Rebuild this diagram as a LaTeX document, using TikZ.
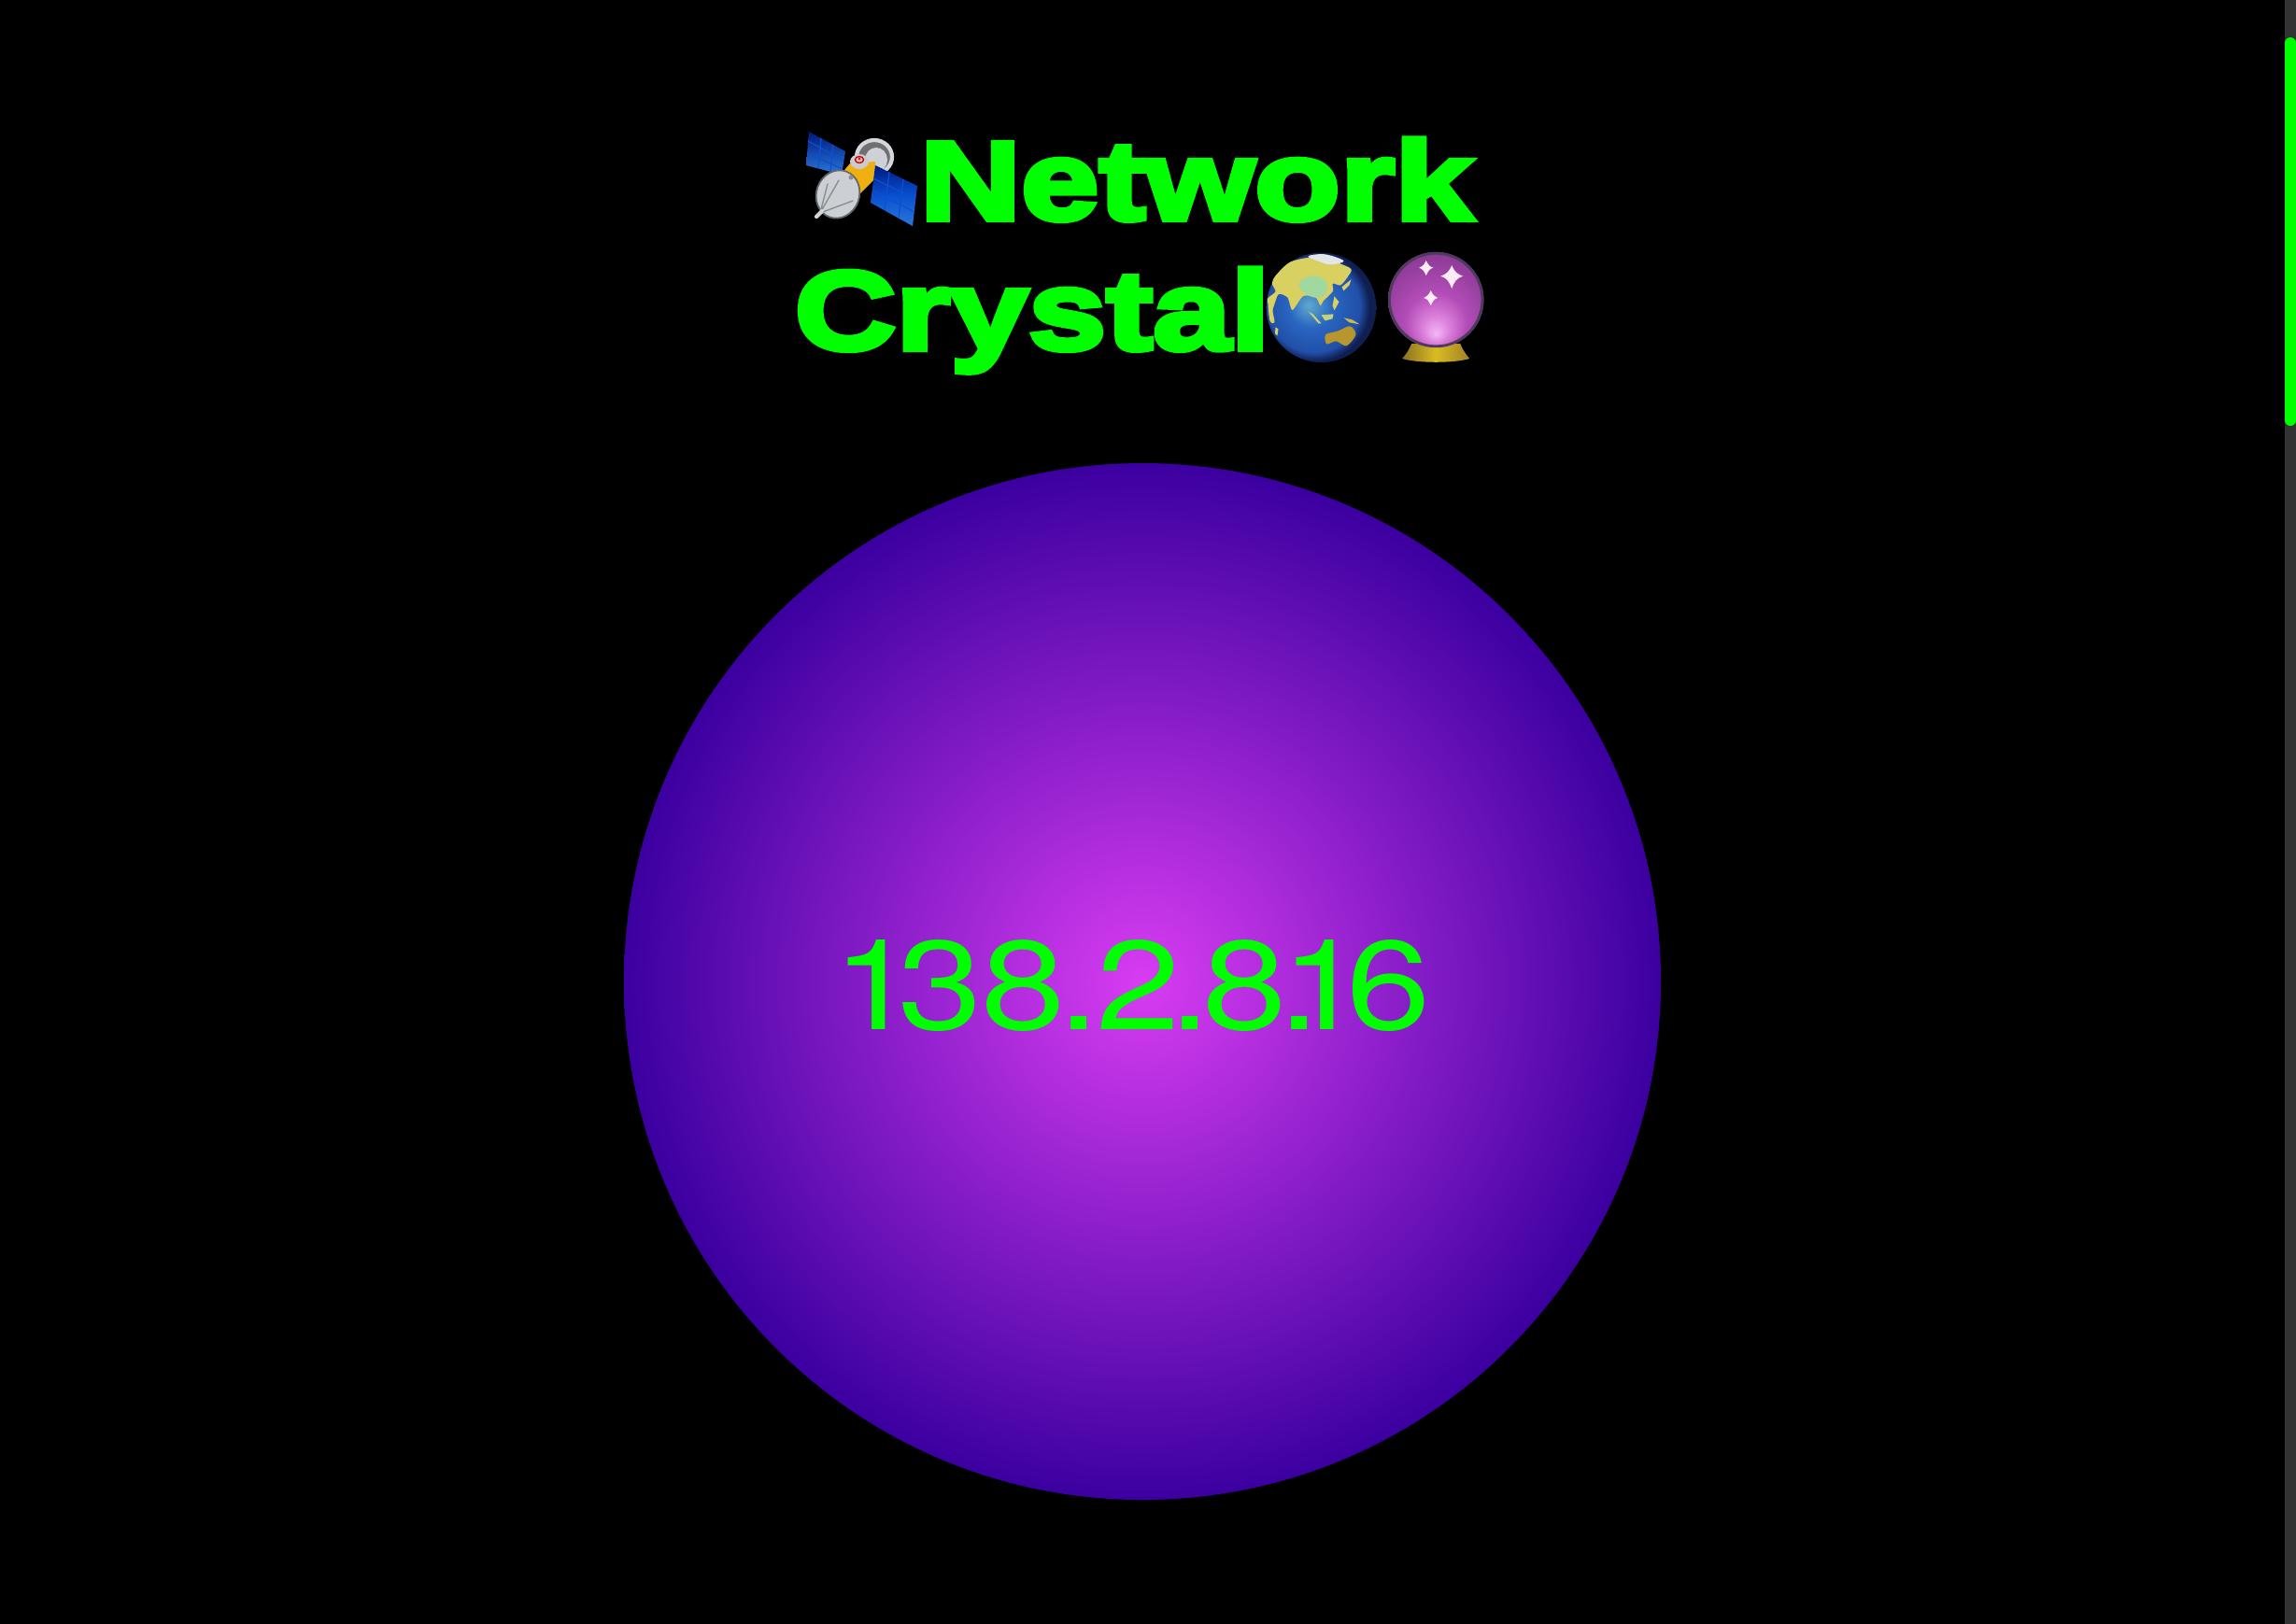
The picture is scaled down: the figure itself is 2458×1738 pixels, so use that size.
\documentclass[tikz,border=0pt]{standalone}
\usepackage{fontspec}
\setmainfont{TeX Gyre Heros}
\newfontfamily\headfont[FakeBold=5,FakeStretch=1.255]{Liberation Sans Bold}
\newfontfamily\addrfont[FakeStretch=1.2]{TeX Gyre Heros}
\definecolor{paper}{HTML}{000000}
\definecolor{neon}{HTML}{00FF00}
\definecolor{track}{HTML}{333333}
\definecolor{orbin}{HTML}{D83CF2}
\definecolor{orbout}{HTML}{3C00A0}
\definecolor{panel}{HTML}{001A80}
\definecolor{panelhi}{HTML}{2A78D8}
\definecolor{cell}{HTML}{0A50D0}
\definecolor{dish}{HTML}{C8CCD0}
\definecolor{bus}{HTML}{F0B010}
\definecolor{land}{HTML}{D8D060}
\definecolor{mint}{HTML}{A0D8A0}
\definecolor{oz}{HTML}{B8962E}
\definecolor{brass}{HTML}{C8A030}
\definecolor{rim}{HTML}{4D3A5C}
\pgfdeclareradialshading{orbshade}{\pgfpoint{0bp}{0bp}}{color(0bp)=(orbin); color(25bp)=(orbout); color(50bp)=(orbout)}
\pgfdeclareradialshading{globeshade}{\pgfpoint{-6bp}{1bp}}{rgb(0bp)=(0.38,0.66,0.80); rgb(10bp)=(0.16,0.40,0.76); rgb(21bp)=(0.13,0.31,0.66); rgb(25bp)=(0.06,0.12,0.32); rgb(50bp)=(0.06,0.12,0.32)}
\pgfdeclareradialshading{lensshade}{\pgfpoint{0bp}{-18bp}}{rgb(0bp)=(0.96,0.72,0.96); rgb(7bp)=(0.86,0.50,0.86); rgb(16bp)=(0.70,0.30,0.72); rgb(32bp)=(0.54,0.22,0.58); rgb(50bp)=(0.54,0.22,0.58)}
\newcommand{\ks}[1]{\kern#1\dimexpr 0.01cm\relax}

\begin{document}
\begin{tikzpicture}[
    x=0.01cm, y=-0.01cm,
    headline/.style={anchor=base west, inner sep=0pt, text=neon, font=\headfont\fontsize{34}{34}\selectfont},
    address/.style={anchor=base west, inner sep=0pt, text=neon, font=\addrfont\fontsize{38.5}{38.5}\selectfont},
    panelbox/.style={top color=panel, bottom color=panelhi},
    gridline/.style={cell, line width=0.35pt},
    glint/.style={white!92!magenta},
  ]
\useasboundingbox (0,0) rectangle (2458,1738);
\fill[paper] (-5,-5) rectangle (2463,1745);

% --- Scrollbar on the right edge ----------------------------------------------
\fill[track] (2446,-5) rectangle (2463,1745);
\fill[neon, rounded corners=0.06cm] (2446,40) rectangle (2458,456);

% --- Title, two lines --------------------------------------------------------
\node[headline] (network) at (984,235) {Network};
\node[headline] (crystal) at (850,374) {Crystal};

% --- Satellite ---------------------------------------------------------------
\begin{scope}[shift={(922,191)}]
  \draw[dish!80!white, line width=1.2pt, fill=dish!55!black] (14,-23) ellipse (19 and 18);
  \fill[dish!90!white] (16,-20) ellipse (12 and 13);
  \shade[panelbox] (-56,-50) -- (-17,-29) -- (-21,-4) -- (-59,-14) -- cycle;
  \draw[gridline] (-43,-43) -- (-46,-11) (-30,-36) -- (-33,-7) (-57,-40) -- (-19,-19) (-58,-27) -- (-20,-10);
  \fill[bus] (-22,-4) -- (-12,-16) -- (15,-18) -- (14,1) -- (-4,19) -- (-19,1) -- cycle;
  \fill[dish] (-2,-18) ellipse (10 and 8);
  \draw[red!85!black, line width=0.4pt] (-2,-20) ellipse (4.5 and 3.5);
  \fill[red] (-2,-21) circle (1.5);
  \shade[top color=panel, bottom color=panelhi, middle color=cell] (15,-14) -- (60,8) -- (55,51) -- (10,26) -- cycle;
  \draw[gridline] (30,-7) -- (25,34) (45,1) -- (40,43) (13,0) -- (58,22) (12,13) -- (57,36);
  \draw[dish!50!black, line width=0.5pt, fill=dish!92!white, rotate around={-20:(-25,17)}] (-25,17) ellipse (23 and 26);
  \draw[dish!70!black, line width=0.4pt, line cap=round] (-44,37) -- (-24,2) (-44,37) -- (-9,24) (-44,37) -- (-36,6);
  \fill[dish!70!black] (-11,-1) circle (2.5);
  \draw[dish!85!white, line width=1.2pt, line cap=round] (-48,41) -- (-42,35);
\end{scope}

% --- Globe -------------------------------------------------------------------
\begin{scope}[shift={(1414.5,329.3)}]
  \shade[shading=globeshade] (0,0) circle (58.8);
  \fill[land] plot[smooth cycle, tension=0.45] coordinates {(-57.7,-9) (-49,-17) (-52.7,-25.7) (-49,-34) (-32.7,-49) (-2.7,-54) (30.7,-42.3) (29,-34) (20.7,-24) (12.3,-25.7) (12.3,-17.3) (2.3,-7.3) (-1,-2.3) (-6,-10.7) (-19.3,-12.3) (-31,2.7) (-36,-10.7) (-46,-14) (-52.7,2.7)};
  \fill[land] plot[smooth cycle, tension=0.5] coordinates {(-57,-8) (-52,-8) (-52,4) (-50,16) (-55,14)};
  \fill[mint] plot[smooth cycle, tension=0.7] coordinates {(-24,-26) (-8,-34) (6,-26) (2,-12) (-14,-13)};
  \fill[dish!50!white] plot[smooth cycle, tension=0.6] coordinates {(-14,-55) (4,-57) (24,-50) (10,-46) (-4,-50)};
  \fill[oz] plot[smooth cycle, tension=0.5] coordinates {(4.7,29) (18,25) (30.7,20) (37,29) (27,41) (16,36) (5.7,39)};
  \fill[land] (-49,21) -- (-46,23) -- (-47,30) -- (-49.5,28) -- cycle;
  \fill[land!80!mint] (-14,4) -- (-9,7) -- (0,17) -- (-3,17) -- cycle;
  \fill[land!60!mint] (0,8) -- (13,7) -- (12,12) -- (4,14) -- cycle;
  \fill[land!60!oz] (24,11) -- (33,13) -- (41,18) -- (30,16) -- cycle;
  \fill[land] (14,-12) -- (19,-6) -- (14,3) -- (12,-2) -- cycle;
  \fill[land] (22,-22) -- (32,-30) -- (30,-24) -- (24,-18) -- cycle;
\end{scope}

% --- Crystal ball ------------------------------------------------------------
\begin{scope}[shift={(1537.2,321)}]
  \shade[left color=brass!70!black, right color=brass!80!black, middle color=brass!70!yellow] (-26,47) -- (26,47) .. controls (30,56) and (32,58) .. (36,63) .. controls (20,68) and (-20,68) .. (-36,63) .. controls (-32,58) and (-30,56) .. (-26,47) -- cycle;
  \shade[shading=lensshade] (0,0) circle (51.2);
  \draw[rim, line width=0.8pt] (0,0) circle (49.8);
  \fill[glint] (-10.5,-42) .. controls (-8,-37) and (-7,-36) .. (-3,-34.3) .. controls (-7,-33) and (-8,-31) .. (-10.5,-26) .. controls (-13,-31) and (-14,-33) .. (-18,-34.3) .. controls (-14,-36) and (-13,-37) .. (-10.5,-42) -- cycle;
  \fill[glint] (17,-37) .. controls (20,-30) and (22,-28) .. (29,-25.3) .. controls (22,-23) and (20,-20) .. (17,-12) .. controls (14,-20) and (12,-23) .. (5,-25.3) .. controls (12,-28) and (14,-30) .. (17,-37) -- cycle;
  \fill[glint] (-5.5,-10) .. controls (-3,-5) and (-2,-4) .. (2,-2) .. controls (-2,-1) and (-3,1) .. (-5.5,6) .. controls (-8,1) and (-9,-1) .. (-13,-2) .. controls (-9,-4) and (-8,-5) .. (-5.5,-10) -- cycle;
\end{scope}

% --- Orb and its address -----------------------------------------------------
\shade[shading=orbshade] (1223,1051) circle (555);
\node[address] (addr) at (890.7,1102) {1\ks{-20.5}3\ks{-1}8\ks{-8.5}.\ks{-3.9}2\ks{-12.7}.\ks{-8.7}8\ks{-9.7}.\ks{-41.8}1\ks{-21}6};

\end{tikzpicture}
\end{document}
